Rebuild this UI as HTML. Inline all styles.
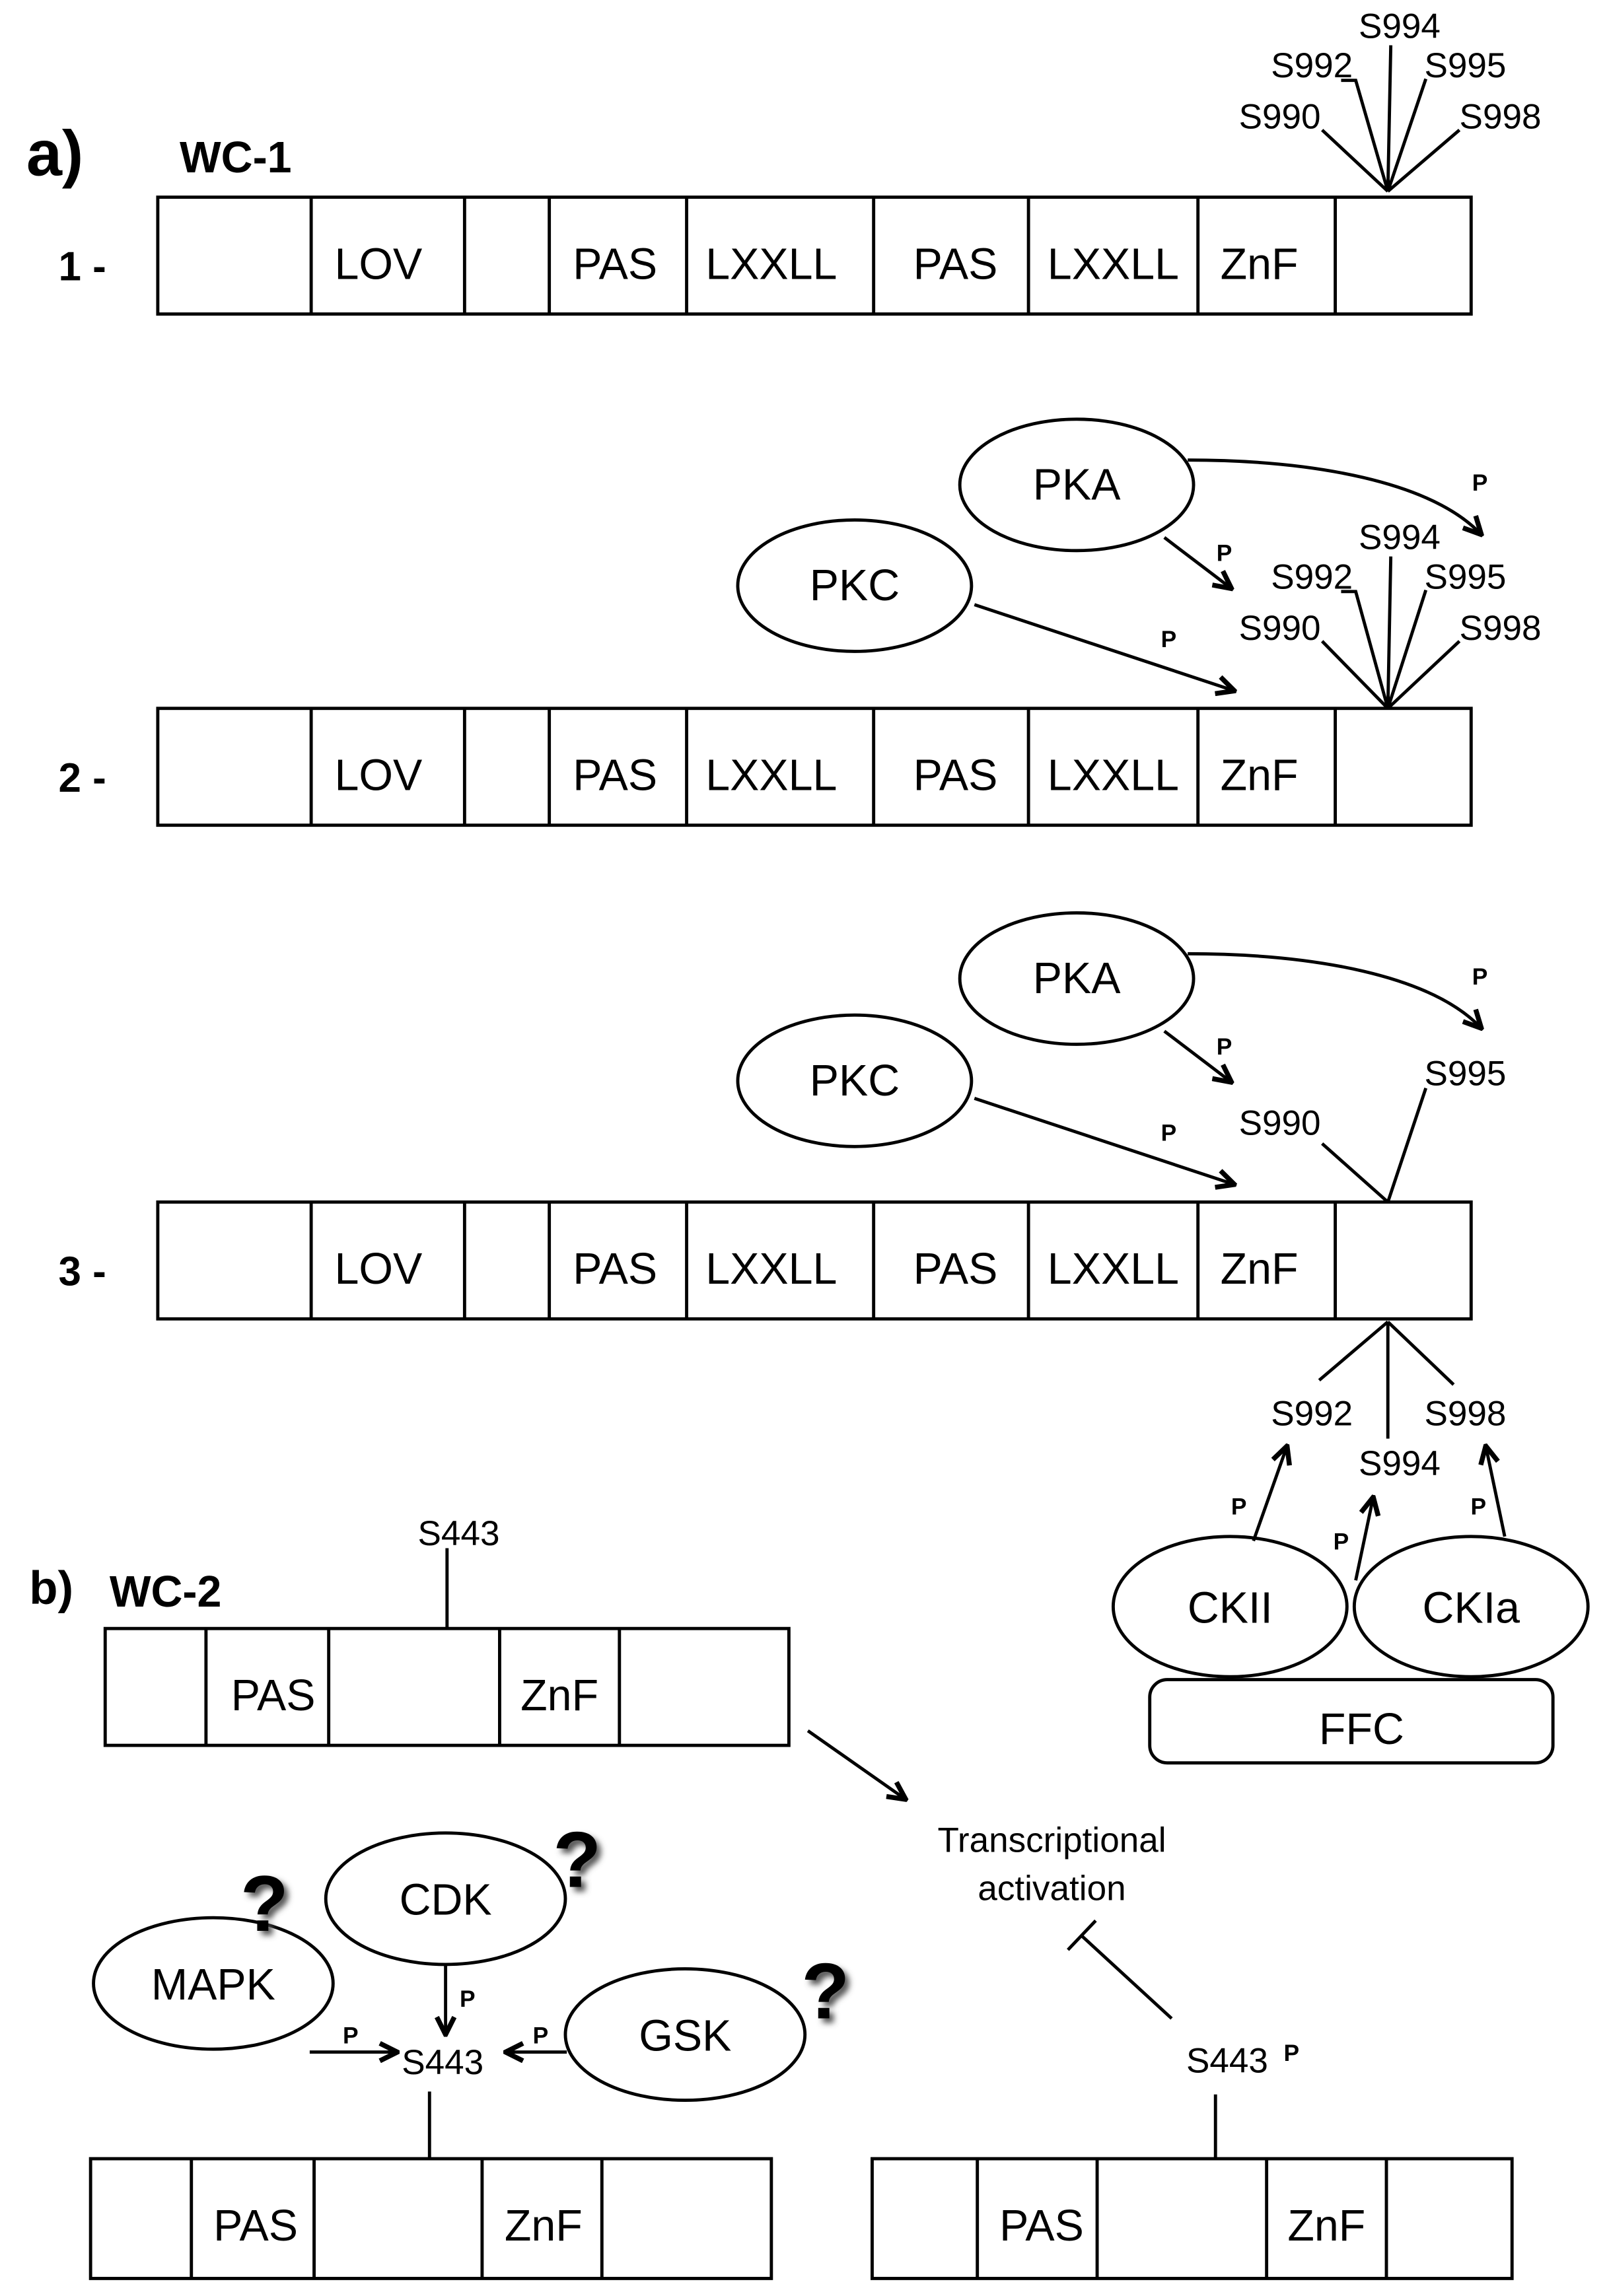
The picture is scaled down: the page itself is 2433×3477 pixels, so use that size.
<!DOCTYPE html>
<html><head><meta charset="utf-8"><style>
html,body{margin:0;padding:0;background:#fff}
svg{display:block}
text{font-family:"Liberation Sans Narrow","Liberation Sans",sans-serif;fill:#000}
</style></head><body>
<svg width="2433" height="3477" viewBox="0 0 1100 1572" xmlns="http://www.w3.org/2000/svg">
<defs>
<marker id="ar" viewBox="0 0 20 20" refX="18" refY="10" markerWidth="15" markerHeight="15" markerUnits="userSpaceOnUse" orient="auto">
<polyline points="2,2 18,10 2,18" fill="none" stroke="#000" stroke-width="4.5"/>
</marker>
<filter id="sh"><feGaussianBlur stdDeviation="2"/></filter>
</defs>
<g stroke="#000" stroke-width="2.2" fill="none">
<rect x="108" y="135" width="899" height="80"/>
<rect x="108" y="485" width="899" height="80"/>
<rect x="108" y="823" width="899" height="80"/>
<path d="M213 135v80M318 135v80M376 135v80M470 135v80M598 135v80M704 135v80M820 135v80M914 135v80"/>
<path d="M213 485v80M318 485v80M376 485v80M470 485v80M598 485v80M704 485v80M820 485v80M914 485v80"/>
<path d="M213 823v80M318 823v80M376 823v80M470 823v80M598 823v80M704 823v80M820 823v80M914 823v80"/>
<path d="M950 131L905 89M950 131L928 55H918M950 131L952 31M950 131L976 54M950 131L999 89"/>
<path d="M950 485L905 439M950 485L928 405H918M950 485L952 381M950 485L976 404M950 485L999 439"/>
<path d="M950 823L905 783M950 823L976 745"/>
<path d="M950 905L903 945M950 905L950 985M950 905L995 948"/>
<ellipse cx="737" cy="332" rx="80" ry="45"/>
<ellipse cx="585" cy="401" rx="80" ry="45"/>
<ellipse cx="737" cy="670" rx="80" ry="45"/>
<ellipse cx="585" cy="740" rx="80" ry="45"/>
<ellipse cx="842" cy="1100" rx="80" ry="48"/>
<ellipse cx="1007" cy="1100" rx="80" ry="48"/>
<rect x="787" y="1150" width="276" height="57" rx="12"/>
<path d="M813 315C900 315 980 330 1014 366" marker-end="url(#ar)"/>
<path d="M797 368L843 403" marker-end="url(#ar)"/>
<path d="M667 414L845 473" marker-end="url(#ar)"/>
<path d="M813 653C900 653 980 668 1014 704" marker-end="url(#ar)"/>
<path d="M797 706L843 741" marker-end="url(#ar)"/>
<path d="M667 752L845 811" marker-end="url(#ar)"/>
<path d="M858 1055L881 990" marker-end="url(#ar)"/>
<path d="M928 1082L940 1025" marker-end="url(#ar)"/>
<path d="M1030 1052L1017 990" marker-end="url(#ar)"/>
<rect x="72" y="1115" width="468" height="80"/>
<path d="M141 1115v80M225 1115v80M342 1115v80M424 1115v80M306 1060v55"/>
<path d="M553 1185L620 1232" marker-end="url(#ar)"/>
<path d="M802 1382L740 1325M731 1335L750 1315"/>
<rect x="597" y="1478" width="438" height="82"/>
<path d="M669 1478v82M751 1478v82M867 1478v82M949 1478v82M832 1434v44"/>
<rect x="62" y="1478" width="466" height="82"/>
<path d="M131 1478v82M215 1478v82M330 1478v82M412 1478v82M294 1432v46"/>
<ellipse cx="146" cy="1358" rx="82" ry="45"/>
<ellipse cx="305" cy="1300" rx="82" ry="45"/>
<ellipse cx="469" cy="1393" rx="82" ry="45"/>
<path d="M212 1405L272 1405" marker-end="url(#ar)"/>
<path d="M305 1345L305 1393" marker-end="url(#ar)"/>
<path d="M388 1405L346 1405" marker-end="url(#ar)"/>
</g>
<g font-size="30" text-anchor="middle">
<text x="259" y="191">LOV</text><text x="421" y="191">PAS</text><text x="528" y="191">LXXLL</text><text x="654" y="191">PAS</text><text x="762" y="191">LXXLL</text><text x="862" y="191">ZnF</text>
<text x="259" y="541">LOV</text><text x="421" y="541">PAS</text><text x="528" y="541">LXXLL</text><text x="654" y="541">PAS</text><text x="762" y="541">LXXLL</text><text x="862" y="541">ZnF</text>
<text x="259" y="879">LOV</text><text x="421" y="879">PAS</text><text x="528" y="879">LXXLL</text><text x="654" y="879">PAS</text><text x="762" y="879">LXXLL</text><text x="862" y="879">ZnF</text>
<text x="737" y="342">PKA</text><text x="585" y="411">PKC</text>
<text x="737" y="680">PKA</text><text x="585" y="750">PKC</text>
<text x="842" y="1111">CKII</text><text x="1007" y="1111">CKIa</text><text x="932" y="1194">FFC</text>
<text x="187" y="1171">PAS</text><text x="383" y="1171">ZnF</text>
<text x="713" y="1534">PAS</text><text x="908" y="1534">ZnF</text>
<text x="175" y="1534">PAS</text><text x="372" y="1534">ZnF</text>
<text x="146" y="1369">MAPK</text><text x="305" y="1311">CDK</text><text x="469" y="1404">GSK</text>
</g>
<g font-size="24" text-anchor="middle">
<text x="958" y="26">S994</text><text x="898" y="53">S992</text><text x="1003" y="53">S995</text><text x="876" y="88">S990</text><text x="1027" y="88">S998</text>
<text x="958" y="376">S994</text><text x="898" y="403">S992</text><text x="1003" y="403">S995</text><text x="876" y="438">S990</text><text x="1027" y="438">S998</text>
<text x="876" y="777">S990</text><text x="1003" y="743">S995</text>
<text x="898" y="976">S992</text><text x="958" y="1010">S994</text><text x="1003" y="976">S998</text>
<text x="314" y="1058">S443</text>
<text x="720" y="1268">Transcriptional</text><text x="720" y="1301">activation</text>
<text x="840" y="1419">S443</text>
<text x="303" y="1420">S443</text>
</g>
<g font-size="16" font-weight="bold" text-anchor="middle">
<text x="1013" y="336">P</text><text x="838" y="384">P</text><text x="800" y="443">P</text>
<text x="1013" y="674">P</text><text x="838" y="722">P</text><text x="800" y="781">P</text>
<text x="848" y="1037">P</text><text x="918" y="1061">P</text><text x="1012" y="1037">P</text>
<text x="884" y="1411">P</text>
<text x="240" y="1399">P</text><text x="320" y="1374">P</text><text x="370" y="1399">P</text>
</g>
<g font-weight="bold">
<text x="18" y="120" font-size="44">a)</text>
<text x="123" y="118" font-size="30">WC-1</text>
<text x="40" y="192" font-size="28">1 -</text>
<text x="40" y="542" font-size="28">2 -</text>
<text x="40" y="880" font-size="28">3 -</text>
<text x="20" y="1098" font-size="32">b)</text>
<text x="75" y="1100" font-size="30">WC-2</text>
</g>
<g font-size="54" font-weight="bold" text-anchor="middle">
<text x="184" y="1325" style="fill:#555" filter="url(#sh)">?</text>
<text x="181" y="1322">?</text>
<text x="398" y="1295" style="fill:#555" filter="url(#sh)">?</text>
<text x="395" y="1292">?</text>
<text x="568" y="1385" style="fill:#555" filter="url(#sh)">?</text>
<text x="565" y="1382">?</text>
</g>
</svg>
</body></html>
